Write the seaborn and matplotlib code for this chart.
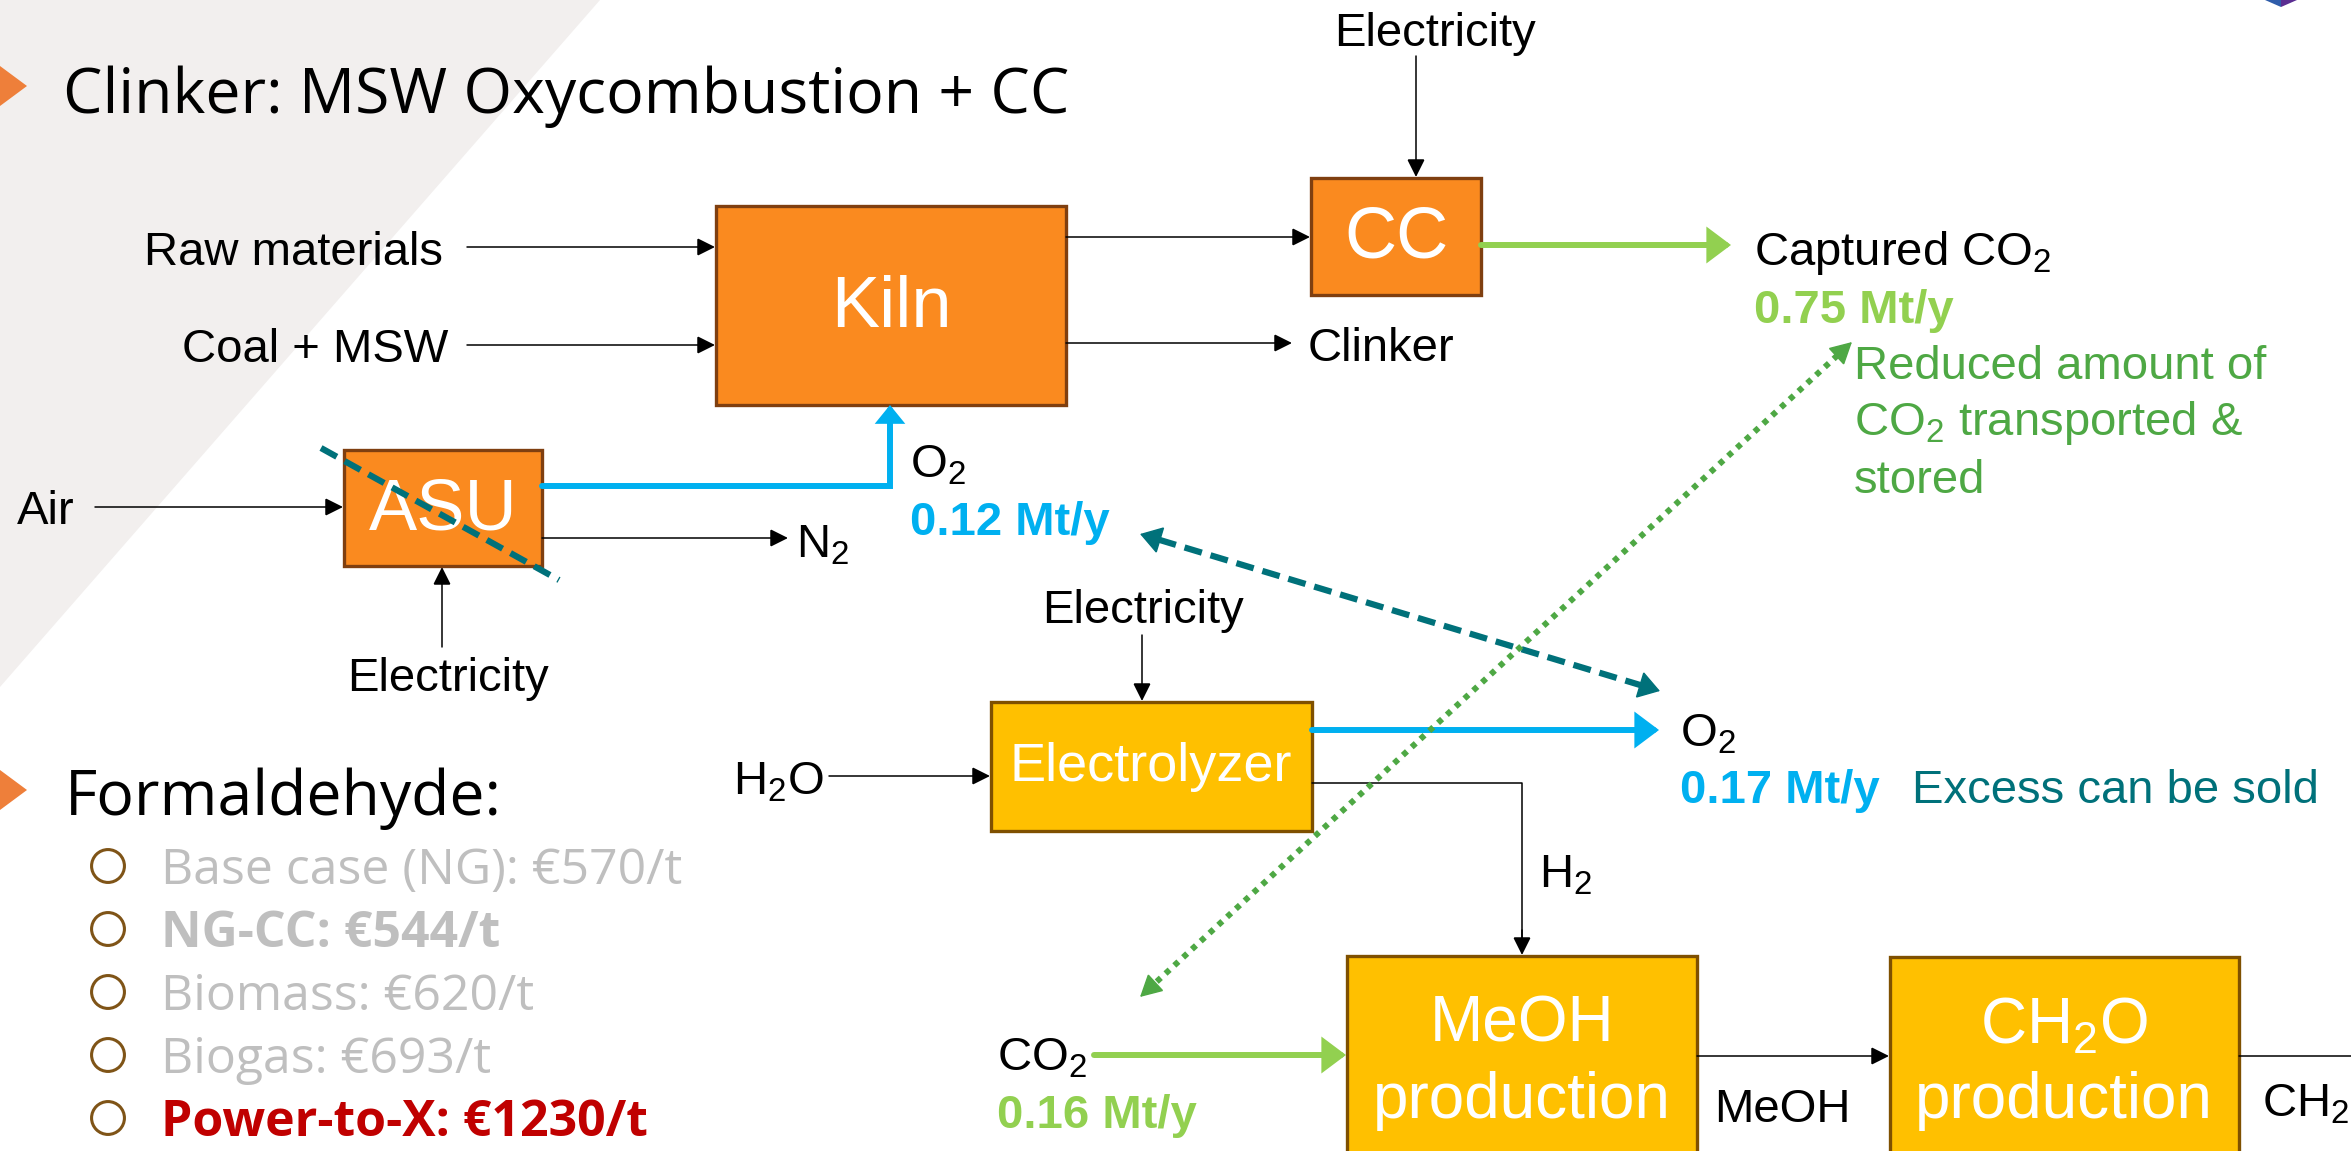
import matplotlib.pyplot as plt
import matplotlib.patches as mpatches
import numpy as np
import pandas as pd
import seaborn as sns

# flows, Mt/y
O2_ASU = 0.12
CO2_CAPTURED = 0.75
O2_ELECTROLYZER = 0.17
CO2_MEOH = 0.16

# formaldehyde cost per case, EUR/t
cases = ["Base case (NG)", "NG-CC", "Biomass", "Biogas", "Power-to-X"]
costs = [570, 544, 620, 693, 1230]
case_bold = [False, True, False, False, True]
case_colors = ["#BFBFBF", "#BFBFBF", "#BFBFBF", "#BFBFBF", "#C00000"]

W, H = 2351, 1151

ORANGE = "#FA8A1F"
ORANGE_EDGE = "#7F3F10"
YELLOW = "#FFC000"
YELLOW_EDGE = "#7F5000"
BLUE = "#00B0F0"
LIGHT_GREEN = "#92D050"
DARK_GREEN = "#4EA844"
TEAL = "#00717A"
BULLET = "#EE7F3A"

FS = 34  # label size


def main():
    sns.set_theme(style="white")
    plt.rcParams["font.family"] = ["Liberation Sans", "DejaVu Sans"]
    plt.rcParams["mathtext.fontset"] = "custom"
    plt.rcParams["mathtext.rm"] = "Liberation Sans"
    plt.rcParams["mathtext.bf"] = "Liberation Sans:bold"
    plt.rcParams["lines.scale_dashes"] = False

    fig = plt.figure(figsize=(W / 100, H / 100), dpi=100)
    ax = fig.add_axes([0, 0, 1, 1])
    ax.set_xlim(0, W)
    ax.set_ylim(H, 0)
    ax.axis("off")

    # grey backdrop + logo corner
    ax.add_patch(mpatches.Polygon([(0, 0), (600, 0), (0, 687)], fc="#F2EFEE", ec="none", zorder=0))
    ax.add_patch(mpatches.Polygon([(2265, 0), (2281, 0), (2281, 7)], fc="#2F5DAA", ec="none", zorder=1))
    ax.add_patch(mpatches.Polygon([(2281, 0), (2297, 0), (2281, 7)], fc="#5A2D91", ec="none", zorder=1))

    def txt(x, yc, s, fs=FS, ha="left", color="black", weight="normal", family=None, **kw):
        ax.text(x, yc + fs * 0.5, s, fontsize=fs, ha=ha, va="baseline", color=color,
                fontweight=weight, family=family or ["Liberation Sans", "DejaVu Sans"], zorder=6, **kw)

    def box(x0, y0, x1, y1, fc, ec):
        ax.add_patch(mpatches.Rectangle((x0, y0), x1 - x0, y1 - y0, fc=fc, ec=ec, lw=2.4, zorder=3))

    def arrow(p0, p1, color="black", lw=1.1, hl=11, hw=5.5, z=4):
        ax.annotate("", xy=p1, xytext=p0, zorder=z,
                    arrowprops=dict(arrowstyle=f"-|>,head_length={hl},head_width={hw}",
                                    mutation_scale=1, color=color, lw=lw,
                                    shrinkA=0, shrinkB=0, joinstyle="miter"))

    def broken_double(p0, p1, color, lw, dashes, hl, hw, z):
        p0, p1 = np.array(p0, float), np.array(p1, float)
        u = (p1 - p0) / np.linalg.norm(p1 - p0)
        back = hl / 0.72
        a, b = p0 + u * back, p1 - u * back
        ax.plot([a[0], b[0]], [a[1], b[1]], color=color, lw=lw, dashes=dashes,
                solid_capstyle="butt", dash_capstyle="butt", zorder=z)
        arrow(p0 + u * back, p0, color=color, lw=1, hl=hl, hw=hw, z=z)
        arrow(p1 - u * back, p1, color=color, lw=1, hl=hl, hw=hw, z=z)

    # section headings
    seg = ["Open Sans", "DejaVu Sans"]
    ax.add_patch(mpatches.Polygon([(0, 66), (27, 86), (0, 106)], fc=BULLET, ec="none", zorder=2))
    txt(63, 90, "Clinker: MSW Oxycombustion + CC", 45, family=seg)
    ax.add_patch(mpatches.Polygon([(0, 770), (27, 790), (0, 810)], fc=BULLET, ec="none", zorder=2))
    txt(65, 792, "Formaldehyde:", 45, family=seg)

    # cost bullets
    ys = [866 + 63 * i for i in range(len(cases))]
    df = pd.DataFrame({"x": [108] * len(cases), "y": ys, "case": cases})
    sns.scatterplot(data=df, x="x", y="y", ax=ax, s=560, marker="o", facecolor="none",
                    edgecolor="#7F5417", linewidth=2.2, legend=False, zorder=5)
    for y, c, v, b, col in zip(ys, cases, costs, case_bold, case_colors):
        txt(161, y, f"{c}: €{v}/t", 36, color=col, weight="bold" if b else "normal", family=seg)

    # clinker boxes
    box(716, 206, 1066, 405, ORANGE, ORANGE_EDGE)
    box(1311, 178, 1481, 295, ORANGE, ORANGE_EDGE)
    box(344, 450, 542, 566, ORANGE, ORANGE_EDGE)
    ax.text(891, 308, "Kiln", fontsize=52, color="white", ha="center", va="center", zorder=6)
    ax.text(1396, 239, "CC", fontsize=52, color="white", ha="center", va="center", zorder=6)
    ax.text(443, 511, "ASU", fontsize=52, color="white", ha="center", va="center", zorder=6)

    txt(443, 248, "Raw materials", ha="right")
    txt(448, 345, "Coal + MSW", ha="right")
    arrow((467, 247), (715, 247))
    arrow((467, 345), (715, 345))
    arrow((1066, 237), (1310, 237))
    arrow((1066, 343), (1292, 343))
    txt(1308, 344, "Clinker")
    txt(1435, 29, "Electricity", ha="center")
    arrow((1416, 56), (1416, 177))

    arrow((1481, 245), (1731, 245), color=LIGHT_GREEN, lw=4.3, hl=12, hw=9)
    txt(1754, 248, "Captured CO$_2$")
    txt(1754, 306, f"{CO2_CAPTURED:.2f} Mt/y", color=LIGHT_GREEN, weight="bold")
    txt(1854, 362, "Reduced amount of", color=DARK_GREEN)
    txt(1854, 418, "CO$_2$ transported &", color=DARK_GREEN)
    txt(1854, 476, "stored", color=DARK_GREEN)

    txt(17, 507, "Air")
    arrow((95, 507), (343, 507))
    arrow((542, 538), (788, 538))
    txt(796, 540, "N$_2$")
    ax.plot([542, 890, 890], [486, 486, 430], color=BLUE, lw=4.3, solid_joinstyle="miter", zorder=4)
    arrow((890, 440), (890, 405), color=BLUE, lw=4.3, hl=8, hw=6.5)
    txt(910, 460, "O$_2$")
    txt(910, 518, f"{O2_ASU:.2f} Mt/y", color=BLUE, weight="bold")
    arrow((442, 647), (442, 567))
    txt(448, 674, "Electricity", ha="center")

    # ASU crossed out
    ax.plot([321, 559], [448, 580], color=TEAL, lw=4.5, dashes=(13, 6.5), zorder=7)

    # power-to-X boxes
    box(991, 702, 1312, 831, YELLOW, YELLOW_EDGE)
    box(1347, 956, 1697, 1200, YELLOW, YELLOW_EDGE)
    box(1890, 957, 2239, 1200, YELLOW, YELLOW_EDGE)
    ax.text(1151, 767, "Electrolyzer", fontsize=39, color="white", ha="center", va="center", zorder=6)
    txt(1522, 1018, "MeOH", 46, ha="center", color="white")
    txt(1522, 1095, "production", 46, ha="center", color="white")
    txt(2064, 1020, "CH$_2$O", 46, ha="center", color="white")
    txt(2064, 1095, "production", 46, ha="center", color="white")

    txt(1143, 606, "Electricity", ha="center")
    arrow((1142, 635), (1142, 701))
    txt(733, 777, "H$_2$O")
    arrow((829, 776), (990, 776))
    arrow((1312, 730), (1659, 730), color=BLUE, lw=4.3, hl=12, hw=9)
    txt(1680, 729, "O$_2$")
    txt(1680, 786, f"{O2_ELECTROLYZER:.2f} Mt/y", color=BLUE, weight="bold")
    txt(1912, 786, "Excess can be sold", color=TEAL)
    ax.plot([1312, 1522, 1522], [783, 783, 940], color="black", lw=1.1, zorder=4)
    arrow((1522, 930), (1522, 955))
    txt(1539, 870, "H$_2$")
    txt(997, 1053, "CO$_2$")
    txt(997, 1111, f"{CO2_MEOH:.2f} Mt/y", color=LIGHT_GREEN, weight="bold")
    arrow((1094, 1055), (1346, 1055), color=LIGHT_GREEN, lw=4.3, hl=12, hw=9)
    arrow((1697, 1056), (1889, 1056))
    txt(1714, 1105, "MeOH")
    ax.plot([2239, W], [1056, 1056], color="black", lw=1.1, zorder=4)
    txt(2262, 1100, "CH$_2$O")

    # O2 and CO2 exchange between the two plants
    broken_double((1140, 534), (1660, 691), TEAL, 4.5, (13, 6.5), 14, 9, 7)
    broken_double((1852, 342), (1140, 997), DARK_GREEN, 4.3, (4, 4.6), 14, 7.5, 8)

    fig.savefig("out.png", dpi=100)


if __name__ == "__main__":
    main()
